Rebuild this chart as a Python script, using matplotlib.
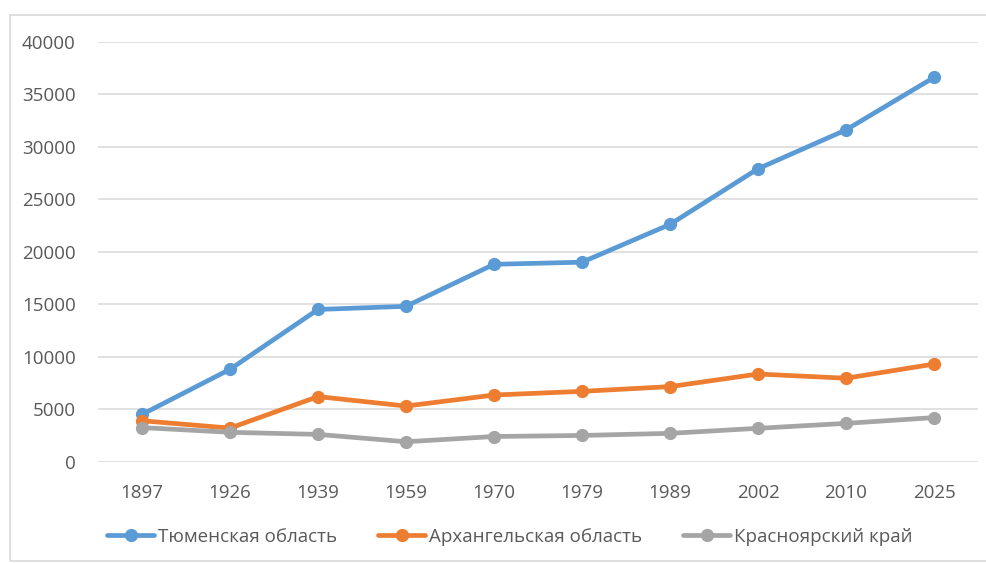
import matplotlib
matplotlib.use("Agg")
import matplotlib.pyplot as plt
from matplotlib.patches import Rectangle

years = ["1897", "1926", "1939", "1959", "1970", "1979", "1989", "2002", "2010", "2025"]
tyumen = [4500, 8800, 14500, 14800, 18800, 19000, 22600, 27900, 31600, 36600]
arkhangelsk = [3900, 3200, 6200, 5300, 6350, 6700, 7150, 8350, 7950, 9300]
krasnoyarsk = [3250, 2800, 2600, 1900, 2400, 2500, 2700, 3180, 3650, 4200]
series_names = ["Тюменская область", "Архангельская область", "Красноярский край"]
y_ticks = [0, 5000, 10000, 15000, 20000, 25000, 30000, 35000, 40000]

plt.rcParams['font.family'] = ['Open Sans', 'DejaVu Sans']
W, H = 987, 563
fig = plt.figure(figsize=(W / 100, H / 100), dpi=100)

# outer chart frame (right side runs off the image)
fig.patches.append(Rectangle((10 / W, 1 - 561 / H), (1010 - 10) / W, (561 - 15) / H,
                             transform=fig.transFigure, fill=False,
                             edgecolor="#D9D9D9", linewidth=1.2))

ax = fig.add_axes([98 / W, 1 - 461.7 / H, (978 - 98) / W, (461.7 - 41.7) / H])
x = list(range(len(years)))
colors = ["#5B9BD5", "#ED7D31", "#A5A5A5"]
for vals, c, name in zip([tyumen, arkhangelsk, krasnoyarsk], colors, series_names):
    ax.plot(x, vals, color=c, lw=3.4, marker="o", markersize=8.5, label=name,
            solid_capstyle="round", zorder=3)

ax.set_xlim(-0.5, len(years) - 0.5)
ax.set_ylim(0, 40000)
ax.set_yticks(y_ticks)
ax.set_yticklabels([str(v) for v in y_ticks])
ax.set_xticks(x)
ax.set_xticklabels(years)
ax.tick_params(axis="both", length=0, labelsize=13.5, labelcolor="#595959")
ax.tick_params(axis="y", pad=16)
ax.tick_params(axis="x", pad=16)
ax.grid(axis="y", color="#D9D9D9", lw=1.1)
ax.set_axisbelow(True)
for s in ax.spines.values():
    s.set_visible(False)

handles, labels = ax.get_legend_handles_labels()
fig.legend(handles, labels, loc="center", bbox_to_anchor=(510 / W, 1 - 537 / H),
           ncol=3, frameon=False, fontsize=13.5, labelcolor="#595959",
           handlelength=2.5, handletextpad=0.2, columnspacing=2.2)

fig.savefig("out.png", dpi=100, facecolor="white")
